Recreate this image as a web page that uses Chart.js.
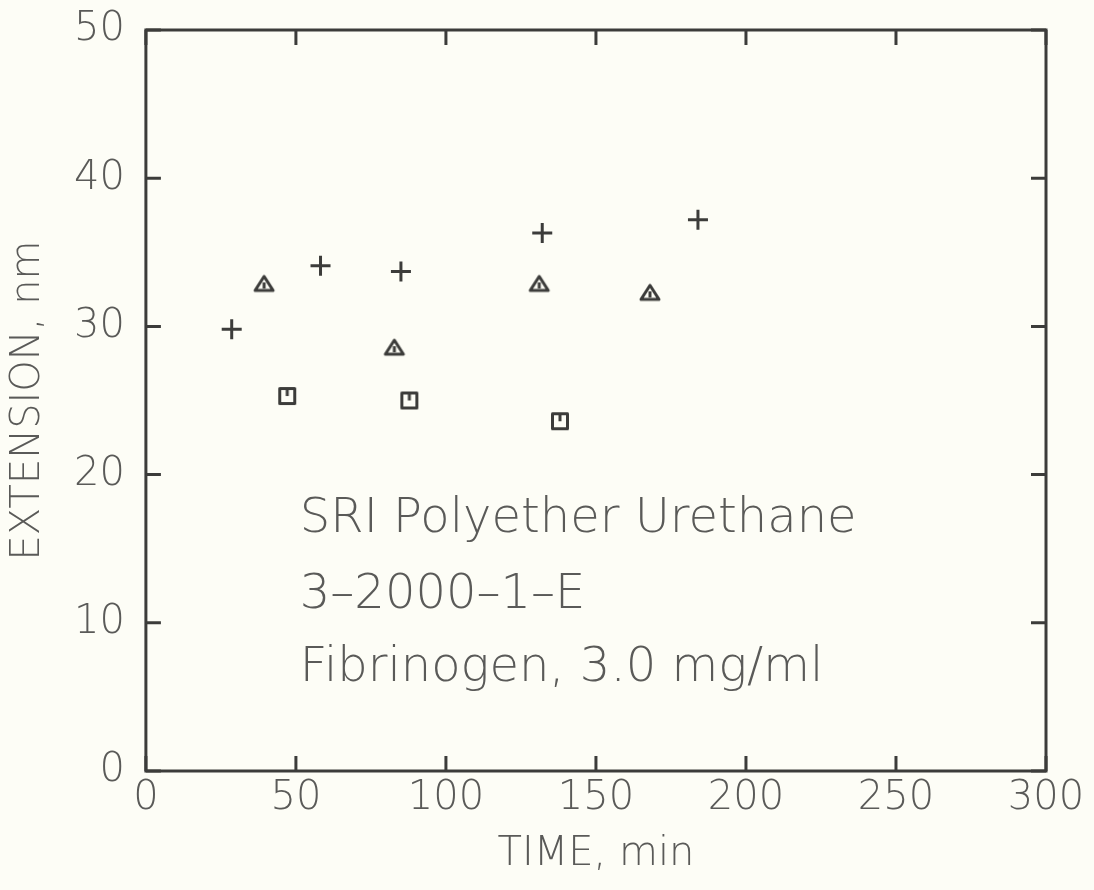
<!DOCTYPE html>
<html>
<head>
<meta charset="utf-8">
<script src="https://cdn.jsdelivr.net/npm/chart.js@4.4.1/dist/chart.umd.min.js"></script>
<style>
    body { margin: 0; background: #fdfdf6; }
    #wrap { width: 1094px; height: 890px; position: relative; }
</style>
</head>
<body>
<div id="wrap"><canvas id="extChart"></canvas></div>
<script>
// Data
const plusTime = [28.6, 58.2, 85.0, 132.1, 184.0];
const plusExt = [29.8, 34.1, 33.7, 36.3, 37.2];
const triTime = [39.4, 82.8, 131.1, 168.0];
const triExt = [32.9, 28.6, 32.9, 32.3];
const sqTime = [47.1, 87.8, 138.0];
const sqExt = [25.3, 25.0, 23.6];

const xTicks = [0, 50, 100, 150, 200, 250, 300];
const yTicks = [0, 10, 20, 30, 40, 50];

const noteLines = ['SRI Polyether Urethane', '3\u20132000\u20131\u2013E', 'Fibrinogen, 3.0 mg/ml'];
const noteX = 51.3;
const noteY = [16.1, 11.0, 6.1];

const ink = '#3c3c3a';
const textColor = '#5a5a58';
const fontFamily = "'DejaVu Sans', 'Liberation Sans', sans-serif";

function toPoints(xs, ys) {
    return xs.map((x, i) => ({ x: x, y: ys[i] }));
}

// little marker images with the notch inside, like the plotter symbols
function makeTriangle() {
    const c = document.createElement('canvas');
    c.width = 24; c.height = 20;
    const g = c.getContext('2d');
    g.strokeStyle = ink;
    g.lineWidth = 3;
    g.lineJoin = 'round';
    g.beginPath();
    g.moveTo(12, 3); g.lineTo(21, 17); g.lineTo(3, 17);
    g.closePath();
    g.stroke();
    g.beginPath();
    g.moveTo(12, 9); g.lineTo(12, 15);
    g.stroke();
    return c;
}

function makeSquare() {
    const c = document.createElement('canvas');
    c.width = 22; c.height = 22;
    const g = c.getContext('2d');
    g.strokeStyle = ink;
    g.lineWidth = 3;
    g.lineJoin = 'round';
    g.strokeRect(3.5, 3.5, 15, 15);
    g.beginPath();
    g.moveTo(11, 4); g.lineTo(11, 11);
    g.stroke();
    return c;
}

// frame, inward ticks and the text block
const framePlugin = {
    id: 'frame',
    afterDraw(chart) {
        const { ctx, chartArea: a, scales } = chart;
        const x = scales.x, y = scales.y;
        const len = 15;
        ctx.save();
        ctx.strokeStyle = ink;
        ctx.lineWidth = 3;
        ctx.strokeRect(a.left, a.top, a.right - a.left, a.bottom - a.top);
        ctx.beginPath();
        xTicks.forEach(v => {
            const px = x.getPixelForValue(v);
            ctx.moveTo(px, a.bottom); ctx.lineTo(px, a.bottom - len);
            ctx.moveTo(px, a.top); ctx.lineTo(px, a.top + len);
        });
        yTicks.forEach(v => {
            const py = y.getPixelForValue(v);
            ctx.moveTo(a.left, py); ctx.lineTo(a.left + len, py);
            ctx.moveTo(a.right, py); ctx.lineTo(a.right - len, py);
        });
        ctx.stroke();

        ctx.fillStyle = textColor;
        ctx.font = '200 48px ' + fontFamily;
        ctx.textBaseline = 'alphabetic';
        ctx.textAlign = 'left';
        noteLines.forEach((t, i) => {
            ctx.fillText(t, x.getPixelForValue(noteX), y.getPixelForValue(noteY[i]));
        });
        ctx.restore();
    }
};

new Chart(document.getElementById('extChart'), {
    type: 'scatter',
    data: {
        datasets: [{
            label: 'plus',
            data: toPoints(plusTime, plusExt),
            pointStyle: 'cross',
            pointRadius: 10,
            pointBorderWidth: 3,
            borderColor: ink,
            backgroundColor: ink
        }, {
            label: 'triangle',
            data: toPoints(triTime, triExt),
            pointStyle: makeTriangle(),
            borderColor: ink
        }, {
            label: 'square',
            data: toPoints(sqTime, sqExt),
            pointStyle: makeSquare(),
            borderColor: ink
        }]
    },
    options: {
        responsive: true,
        maintainAspectRatio: false,
        animation: false,
        layout: {
            padding: { left: 5, right: 48, top: 2, bottom: 11 }
        },
        plugins: {
            legend: { display: false },
            tooltip: { enabled: false }
        },
        scales: {
            x: {
                type: 'linear',
                min: 0,
                max: 300,
                afterBuildTicks: (s) => { s.ticks = xTicks.map(v => ({ value: v })); },
                grid: { display: false, tickLength: 0 },
                border: { display: false },
                ticks: {
                    color: textColor,
                    padding: 4,
                    maxRotation: 0,
                    font: { family: fontFamily, size: 40, weight: 200 }
                },
                title: {
                    display: true,
                    text: 'TIME, min',
                    color: textColor,
                    padding: { top: 4, bottom: 0 },
                    font: { family: fontFamily, size: 40, weight: 200 }
                }
            },
            y: {
                type: 'linear',
                min: 0,
                max: 50,
                afterBuildTicks: (s) => { s.ticks = yTicks.map(v => ({ value: v })); },
                grid: { display: false, tickLength: 0 },
                border: { display: false },
                ticks: {
                    color: textColor,
                    padding: 21,
                    font: { family: fontFamily, size: 40, weight: 200, lineHeight: 0.45 }
                },
                title: {
                    display: true,
                    text: 'EXTENSION, nm',
                    color: textColor,
                    padding: { top: 0, bottom: 0 },
                    font: { family: fontFamily, size: 40, weight: 200 }
                }
            }
        }
    },
    plugins: [framePlugin]
});
</script>
</body>
</html>
